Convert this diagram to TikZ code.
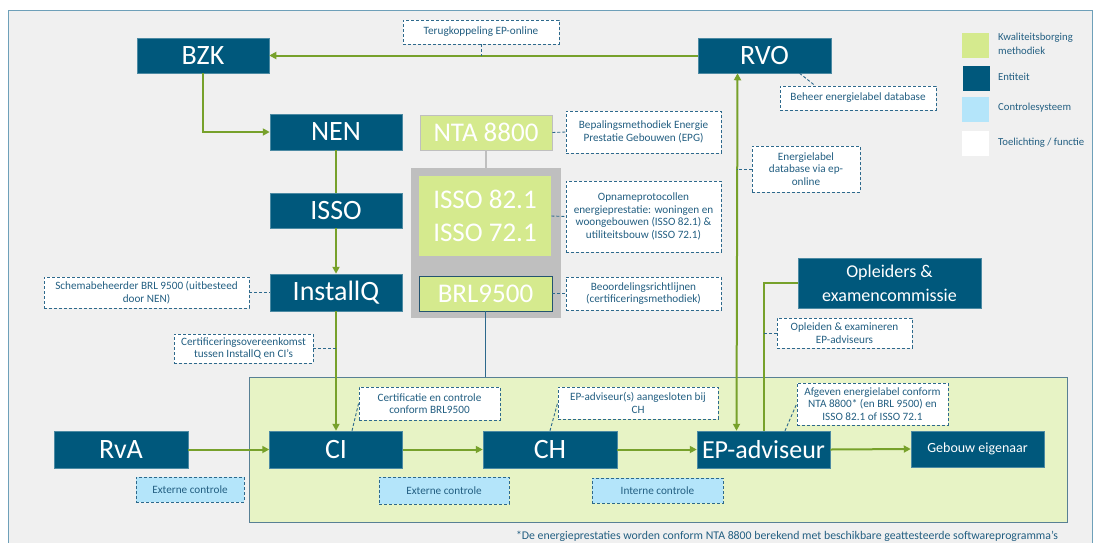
\documentclass[tikz,border=0pt]{standalone}
\usepackage{fontspec}
\setmainfont{Carlito}
\usetikzlibrary{arrows.meta,calc}
\definecolor{entcol}{RGB}{0,88,124}
\definecolor{methcol}{RGB}{213,234,142}
\definecolor{ctrlcol}{RGB}{180,229,250}
\definecolor{areacol}{RGB}{231,243,197}
\definecolor{bgcol}{RGB}{240,240,240}
\definecolor{framecol}{RGB}{110,160,185}
\definecolor{conncol}{RGB}{119,161,43}
\definecolor{dashcol}{RGB}{45,105,140}
\definecolor{txtcol}{RGB}{35,95,130}
\definecolor{graycol}{RGB}{191,191,191}
\newcommand\myfs[2]{\fontsize{#1}{#2}\selectfont}
\tikzset{
  entity/.style={fill=entcol, draw=entcol!70!white, line width=0.5pt, text=white, inner sep=0pt, align=center, font=\myfs{28}{30}},
  meth/.style={fill=methcol, draw=graycol, line width=0.8pt, text=white, inner sep=0pt, align=center, font=\myfs{27}{33}},
  note/.style={fill=white, draw=dashcol, dash pattern=on 3pt off 2pt, line width=0.9pt, text=txtcol, inner sep=0pt, align=center, font=\myfs{11.2}{12.5}},
  ctrl/.style={note, fill=ctrlcol},
  arr/.style={draw=conncol, line width=2pt, -{Triangle[length=7pt,width=7pt]}},
  darr/.style={draw=conncol, line width=2pt, {Triangle[length=7pt,width=7pt]}-{Triangle[length=7pt,width=7pt]}},
  plain/.style={draw=conncol, line width=2pt},
  dconn/.style={draw=dashcol, dash pattern=on 3pt off 2pt, line width=0.9pt},
  legsq/.style={inner sep=0pt, minimum width=27pt, minimum height=25pt},
  legtxt/.style={text=txtcol, inner sep=0pt, anchor=west, align=left, font=\myfs{10.7}{13.5}}
}
\begin{document}
\begin{tikzpicture}[x=1pt,y=-1pt]
\useasboundingbox (0,0) rectangle (1094,542);
% frame
\draw[framecol, fill=bgcol, line width=1pt] (8,10) rectangle (1092,570);
% green area
\node[fill=areacol, draw=framecol!80!black, line width=0.8pt, minimum width=818pt, minimum height=145pt, inner sep=0pt] (area) at (658,449.5) {};
% gray group
\node[fill=graycol, minimum width=150pt, minimum height=150pt, inner sep=0pt] (grp) at (486,243) {};

% entities
\node[entity, minimum width=132pt, minimum height=35pt] (BZK) at (203,55.5) {BZK};
\node[entity, minimum width=133pt, minimum height=35pt] (RVO) at (764.5,55.5) {RVO};
\node[entity, minimum width=132pt, minimum height=36pt] (NEN) at (336,132) {NEN};
\node[entity, minimum width=132pt, minimum height=35pt] (ISSO) at (336,210.5) {ISSO};
\node[entity, minimum width=132pt, minimum height=37pt] (InstallQ) at (336,292.5) {InstallQ};
\node[entity, minimum width=133pt, minimum height=37pt] (CI) at (336,449.5) {CI};
\node[entity, minimum width=134pt, minimum height=37pt] (RvA) at (121,449.5) {RvA};
\node[entity, minimum width=134pt, minimum height=37pt] (CH) at (550,449.5) {CH};
\node[entity, minimum width=133pt, minimum height=37pt, font=\myfs{26}{28}] (EP) at (763.5,449.5) {EP-adviseur};
\node[entity, minimum width=133pt, minimum height=36pt, font=\myfs{14}{16}] (Geb) at (977.5,449) {Gebouw eigenaar};
\node[entity, minimum width=183pt, minimum height=50pt, font=\myfs{18}{24}] (Opl) at (889.5,283) {Opleiders \&\\examencommissie};

% methods
\node[meth, minimum width=132pt, minimum height=35pt] (NTA) at (486,132.5) {NTA 8800};
\node[meth, draw=none, minimum width=132pt, minimum height=80pt] (ISSOg) at (485,216) {ISSO 82.1\\ISSO 72.1};
\node[meth, draw=dashcol!80!black, minimum width=133pt, minimum height=35pt] (BRL) at (485.5,293.5) {BRL9500};

% notes
\node[note, minimum width=156pt, minimum height=24pt] (Terug) at (481,32) {Terugkoppeling EP-online};
\node[note, minimum width=156pt, minimum height=24pt] (Beheer) at (858,98) {Beheer energielabel database};
\node[note, minimum width=155pt, minimum height=42pt] (Bepal) at (643.5,132) {Bepalingsmethodiek Energie\\Prestatie Gebouwen (EPG)};
\node[note, minimum width=155pt, minimum height=71pt] (Opname) at (643.5,216.5) {Opnameprotocollen\\energieprestatie: woningen en\\woongebouwen (ISSO 82.1) \&\\utiliteitsbouw (ISSO 72.1)};
\node[note, minimum width=155pt, minimum height=33pt] (Beoord) at (643.5,293.5) {Beoordelingsrichtlijnen\\(certificeringsmethodiek)};
\node[note, minimum width=108pt, minimum height=46pt] (Elab) at (806,169) {Energielabel\\database via ep-\\online};
\node[note, minimum width=205pt, minimum height=31pt] (Schema) at (146.5,292.5) {Schemabeheerder BRL 9500 (uitbesteed\\door NEN)};
\node[note, minimum width=139pt, minimum height=29pt] (Cover) at (243.5,348.5) {Certificeringsovereenkomst\\tussen InstallQ en CI’s};
\node[note, minimum width=135pt, minimum height=30pt] (Oplx) at (844.5,333) {Opleiden \& examineren\\EP-adviseurs};
\node[note, minimum width=141pt, minimum height=33pt] (Certif) at (429.5,403.5) {Certificatie en controle\\conform BRL9500};
\node[note, minimum width=160pt, minimum height=32pt] (EPs) at (638,403) {EP-adviseur(s) aangesloten bij\\CH};
\node[note, minimum width=151pt, minimum height=42pt] (Afg) at (872.5,404) {Afgeven energielabel conform\\NTA 8800* (en BRL 9500) en\\ISSO 82.1 of ISSO 72.1};
\node[ctrl, minimum width=108pt, minimum height=25pt] (Ext1) at (190,489.5) {Externe controle};
\node[ctrl, minimum width=130pt, minimum height=27pt] (Ext2) at (444,490.5) {Externe controle};
\node[ctrl, minimum width=131pt, minimum height=25pt] (Int) at (657.5,490.5) {Interne controle};

% legend
\node[legsq, fill=methcol] (L1) at (975,45) {};
\node[legsq, fill=entcol] (L2) at (976,78.5) {};
\node[legsq, fill=ctrlcol] (L3) at (975,109.5) {};
\node[legsq, fill=white] (L4) at (975,143.5) {};
\node[legtxt] (T1) at (998,44) {Kwaliteitsborging\\methodiek};
\node[legtxt] (T2) at (998,77) {Entiteit};
\node[legtxt] (T3) at (998,108) {Controlesysteem};
\node[legtxt] (T4) at (998,143) {Toelichting / functie};

% footer
\node[text=txtcol, anchor=east, inner sep=0pt, font=\myfs{11.8}{13}] (foot) at (1058,536) {*De energieprestaties worden conform NTA 8800 berekend met beschikbare geattesteerde softwareprogramma’s};

% green connectors
\draw[arr] (RVO.west) -- (BZK.east);
\draw[arr] (BZK.south) |- (NEN.west);
\draw[plain] (NEN.south) -- (ISSO.north);
\draw[arr] (ISSO.south) -- (InstallQ.north);
\draw[arr] (InstallQ.south) -- (CI.north);
\draw[arr] (RvA.east) -- (CI.west);
\draw[arr] (CI.east) -- (CH.west);
\draw[arr] (CH.east) -- (EP.west);
\draw[arr] (EP.east) -- (Geb.west);
\coordinate (epA) at ($(EP.north)+(-27,0)$);
\coordinate (rvA) at ($(RVO.south)+(-27,0)$);
\draw[darr] (epA) -- (rvA);
\draw[plain] (Opl.west) -| (EP.north);

% gray / blue lines
\draw[graycol, line width=1.2pt] (NTA.south) -- (grp.north);
\draw[dashcol, line width=1pt] (BRL.south) -- (BRL.south |- area.north);

% dashed connectors
\draw[dconn] (Terug.south) -- (Terug.south |- RVO.west);
\coordinate (rvB) at ($(RVO.south)+(35,0)$);
\coordinate (bhB) at ($(Beheer.north)+(-43,0)$);
\draw[dconn] (rvB) -- (bhB);
\draw[dconn] (NTA.east) -- (Bepal.west);
\draw[dconn] (ISSOg.east) -- (Opname.west);
\draw[dconn] (BRL.east) -- (Beoord.west);
\draw[dconn] (Elab.west) -- (Elab.west -| epA);
\draw[dconn] (Schema.east) -- (InstallQ.west);
\draw[dconn] (Cover.east) -- (Cover.east -| InstallQ.south);
\draw[dconn] (Oplx.west) -- (Oplx.west -| EP.north);
\coordinate (ciB) at ($(CI.north)+(16,0)$);
\draw[dconn] (ciB) -- (Certif.west);
\draw[dconn] (CH.north) -- (EPs.west);
\coordinate (epB) at ($(EP.north)+(21.5,0)$);
\draw[dconn] (epB) -- (Afg.west);
\end{tikzpicture}
\end{document}
